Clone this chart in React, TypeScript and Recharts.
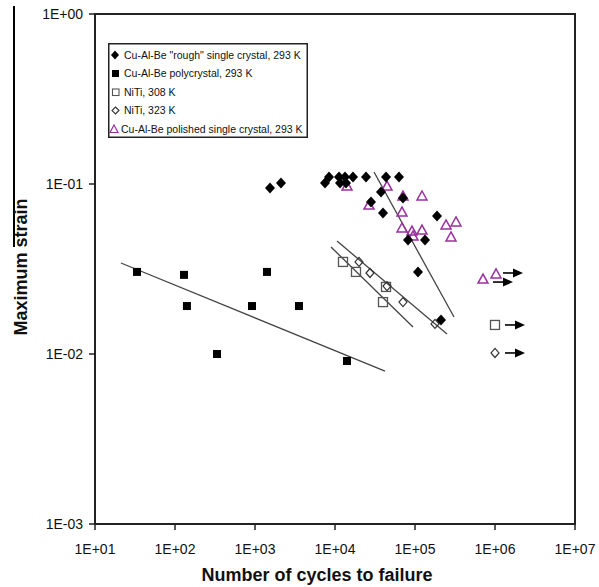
import React from 'react';
import { ScatterChart, Scatter, XAxis, YAxis, Legend, ReferenceArea } from 'recharts';

const FONT = '"Liberation Sans", Arial, sans-serif';
const PURPLE = '#9a2f9e';

// x: number of cycles to failure, y: maximum strain
const roughCrystal = [
  { n: 1540, e: 0.0947 }, { n: 2113, e: 0.1014 }, { n: 7499, e: 0.1014 }, { n: 8414, e: 0.110 },
  { n: 11220, e: 0.110 }, { n: 11550, e: 0.1014 }, { n: 13340, e: 0.110 }, { n: 13730, e: 0.1014 },
  { n: 16790, e: 0.110 }, { n: 24420, e: 0.110 }, { n: 43420, e: 0.110 }, { n: 63100, e: 0.110 },
  { n: 37580, e: 0.0897 }, { n: 28180, e: 0.0784 }, { n: 70790, e: 0.0827 }, { n: 39810, e: 0.0675 },
  { n: 188400, e: 0.0648 }, { n: 81760, e: 0.0469 }, { n: 133400, e: 0.0469 }, { n: 109000, e: 0.0304 },
  { n: 211300, e: 0.01585 },
];
const polyCrystal = [
  { n: 33.5, e: 0.0304 }, { n: 129.6, e: 0.0292 }, { n: 1413, e: 0.0304 }, { n: 141, e: 0.01915 },
  { n: 917, e: 0.01915 }, { n: 3548, e: 0.01915 }, { n: 335, e: 0.0100 }, { n: 14125, e: 0.0091 },
];
const niti308 = [
  { n: 12590, e: 0.0348 }, { n: 18300, e: 0.0304 }, { n: 43420, e: 0.0248 }, { n: 39810, e: 0.0202 },
  { n: 1000000, e: 0.01482 },
];
const niti323 = [
  { n: 19950, e: 0.0348 }, { n: 27380, e: 0.02996 }, { n: 44670, e: 0.0251 }, { n: 70790, e: 0.0202 },
  { n: 177800, e: 0.01502 }, { n: 1000000, e: 0.01014 },
];
const polished = [
  { n: 14130, e: 0.0973 }, { n: 44670, e: 0.0973 }, { n: 26610, e: 0.0752 }, { n: 70790, e: 0.0850 },
  { n: 122300, e: 0.0850 }, { n: 68770, e: 0.0684 }, { n: 68770, e: 0.0551 }, { n: 91700, e: 0.0529 },
  { n: 122300, e: 0.0536 }, { n: 94410, e: 0.0494 }, { n: 244100, e: 0.0574 }, { n: 325500, e: 0.0598 },
  { n: 281800, e: 0.0488 }, { n: 707900, e: 0.0276 }, { n: 1030000, e: 0.0296 },
];
// run-out arrows (tail positions)
const runouts = [
  { n: 1258900, e: 0.02996 }, { n: 944000, e: 0.0265 }, { n: 1333500, e: 0.01482 }, { n: 1333500, e: 0.01014 },
];
// trend lines
const polyTrend = [{ n: 21.1, e: 0.0343 }, { n: 42170, e: 0.00794 }];
const roughTrend = [{ n: 30730, e: 0.1177 }, { n: 307300, e: 0.0165 }];
const nitiTrendUpper = [{ n: 10590, e: 0.0462 }, { n: 251200, e: 0.01311 }];
const nitiTrendLower = [{ n: 8913, e: 0.0426 }, { n: 94410, e: 0.01441 }];

const xTicks = [1e1, 1e2, 1e3, 1e4, 1e5, 1e6, 1e7];
const yTicks = [1e-3, 1e-2, 1e-1, 1];

const legendLabels = [
  'Cu-Al-Be "rough" single crystal, 293 K',
  'Cu-Al-Be polycrystal, 293 K',
  'NiTi, 308 K',
  'NiTi, 323 K',
  'Cu-Al-Be polished single crystal, 293 K',
];

const sci = (v: number) => {
  const p = Math.round(Math.log10(v));
  const s = p < 0 ? '-' : '+';
  const a = Math.abs(p);
  return `1E${s}${a < 10 ? '0' : ''}${a}`;
};

const FilledDiamond = (p: any) => {
  const { cx, cy } = p;
  return <polygon points={`${cx},${cy - 5.5} ${cx + 5},${cy} ${cx},${cy + 5.5} ${cx - 5},${cy}`} fill="#000" />;
};
const FilledSquare = (p: any) => <rect x={p.cx - 4} y={p.cy - 4} width={8} height={8} fill="#000" />;
const OpenSquare = (p: any) => (
  <rect x={p.cx - 4.5} y={p.cy - 4.5} width={9} height={9} fill="none" stroke="#555" strokeWidth={1.3} />
);
const OpenDiamond = (p: any) => {
  const { cx, cy } = p;
  return (
    <polygon points={`${cx},${cy - 4.5} ${cx + 4},${cy} ${cx},${cy + 4.5} ${cx - 4},${cy}`}
      fill="none" stroke="#333" strokeWidth={1.2} />
  );
};
const Triangle = (p: any) => {
  const { cx, cy } = p;
  return (
    <polygon points={`${cx},${cy - 5} ${cx + 5},${cy + 4} ${cx - 5},${cy + 4}`}
      fill="none" stroke={PURPLE} strokeWidth={1.5} />
  );
};
const Arrow = (p: any) => {
  const { cx, cy } = p;
  return (
    <g>
      <line x1={cx} y1={cy} x2={cx + 11} y2={cy} stroke="#000" strokeWidth={1.6} />
      <polygon points={`${cx + 10},${cy - 4.5} ${cx + 20},${cy} ${cx + 10},${cy + 4.5}`} fill="#000" />
    </g>
  );
};
const NoShape = () => <g />;

const LegendBox = () => {
  const rows = [12, 30.5, 49, 67.5, 86];
  return (
    <svg width={200} height={95} style={{ display: 'block' }}>
      <rect x={0.75} y={0.75} width={198.5} height={93.5} fill="#fff" stroke="#222" strokeWidth={1.5} />
      <polygon points={`7,${rows[0] - 4.5} 11,${rows[0]} 7,${rows[0] + 4.5} 3,${rows[0]}`} fill="#000" />
      <rect x={4} y={rows[1] - 3.5} width={7} height={7} fill="#000" />
      <rect x={4.5} y={rows[2] - 3} width={6.5} height={6.5} fill="none" stroke="#555" strokeWidth={1.1} />
      <polygon points={`7.5,${rows[3] - 3.5} 11,${rows[3]} 7.5,${rows[3] + 3.5} 4,${rows[3]}`} fill="none" stroke="#333" strokeWidth={1.1} />
      <polygon points={`6,${rows[4] - 4} 10,${rows[4] + 3.5} 2,${rows[4] + 3.5}`} fill="none" stroke={PURPLE} strokeWidth={1.2} />
      {legendLabels.map((t, i) => (
        <text key={i} x={i === 4 ? 13 : 16} y={rows[i]} dy="0.35em" fontSize={10.5} fontFamily={FONT} fill="#111">
          {t}
        </text>
      ))}
    </svg>
  );
};

const YTitle = (props: any) => {
  const vb = props.viewBox;
  const x = vb.x + 21;
  const y = vb.y + vb.height / 2 - 2;
  return (
    <text x={x} y={y} transform={`rotate(-90 ${x} ${y})`} textAnchor="middle" dominantBaseline="central"
      fontSize={18} fontWeight="bold" fontFamily={FONT} fill="#111">
      Maximum strain
    </text>
  );
};
const XTitle = (props: any) => {
  const vb = props.viewBox;
  return (
    <text x={vb.x + vb.width / 2 - 18} y={vb.y + 57} textAnchor="middle"
      fontSize={18} fontWeight="bold" fontFamily={FONT} fill="#111">
      Number of cycles to failure
    </text>
  );
};

export default function App() {
  const tickStyle = { fill: '#111', fontSize: 14, fontFamily: FONT };
  return (
    <div style={{ position: 'absolute', left: 0, top: 0, width: 599, height: 587, background: '#fff' }}>
      <div style={{ position: 'absolute', left: 13, top: 6, width: 1.5, height: 241, background: '#000' }} />
      <ScatterChart width={599} height={587} margin={{ top: 14, right: 24, bottom: 0, left: 0 }}>
        <XAxis type="number" dataKey="n" scale="log" domain={[10, 1e7]} ticks={xTicks} allowDataOverflow
          tickFormatter={sci} tick={tickStyle} tickSize={6} tickMargin={14} height={63}
          axisLine={{ stroke: '#222', strokeWidth: 2 }} tickLine={{ stroke: '#222', strokeWidth: 1.5 }}
          label={{ content: XTitle }} />
        <YAxis type="number" dataKey="e" scale="log" domain={[0.001, 1]} ticks={yTicks} allowDataOverflow
          tickFormatter={sci} tick={tickStyle} tickSize={6} tickMargin={6} width={95}
          axisLine={{ stroke: '#222', strokeWidth: 2 }} tickLine={{ stroke: '#222', strokeWidth: 1.5 }}
          label={{ content: YTitle }} />
        <ReferenceArea x1={10} x2={1e7} y1={0.001} y2={1} fill="none" fillOpacity={0} stroke="#222" strokeWidth={2} />
        <Scatter data={polyTrend} line={{ stroke: '#444', strokeWidth: 1.3 }} shape={NoShape} legendType="none" isAnimationActive={false} />
        <Scatter data={roughTrend} line={{ stroke: '#444', strokeWidth: 1.3 }} shape={NoShape} legendType="none" isAnimationActive={false} />
        <Scatter data={nitiTrendUpper} line={{ stroke: '#444', strokeWidth: 1.3 }} shape={NoShape} legendType="none" isAnimationActive={false} />
        <Scatter data={nitiTrendLower} line={{ stroke: '#444', strokeWidth: 1.3 }} shape={NoShape} legendType="none" isAnimationActive={false} />
        <Scatter name={legendLabels[4]} data={polished} shape={Triangle} isAnimationActive={false} />
        <Scatter name={legendLabels[1]} data={polyCrystal} shape={FilledSquare} isAnimationActive={false} />
        <Scatter name={legendLabels[2]} data={niti308} shape={OpenSquare} isAnimationActive={false} />
        <Scatter name={legendLabels[3]} data={niti323} shape={OpenDiamond} isAnimationActive={false} />
        <Scatter name={legendLabels[0]} data={roughCrystal} shape={FilledDiamond} isAnimationActive={false} />
        <Scatter data={runouts} shape={Arrow} legendType="none" isAnimationActive={false} />
        <Legend layout="vertical" align="center" verticalAlign="middle" content={LegendBox}
          wrapperStyle={{ top: 43, left: 108, width: 200, height: 95 }} />
      </ScatterChart>
    </div>
  );
}
